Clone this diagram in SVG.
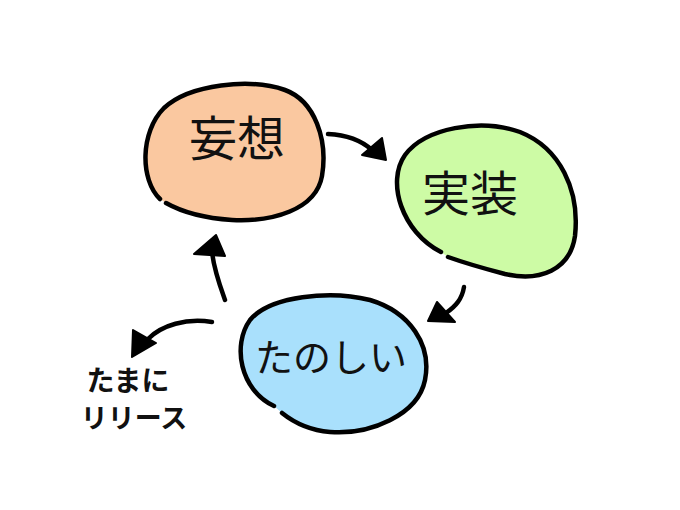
<svg xmlns="http://www.w3.org/2000/svg" width="680" height="510" viewBox="0 0 680 510">
<style>
.blob{stroke:#000;stroke-width:4.5;stroke-linecap:round;stroke-linejoin:round}
.ln{fill:none;stroke:#000;stroke-width:4.5;stroke-linecap:round}
.hd{fill:#000;stroke:#000;stroke-width:2;stroke-linejoin:round}
.t{font-family:"Noto Sans CJK JP","Noto Sans",sans-serif;fill:#111;text-anchor:middle}
.b{font-weight:bold}
</style>
<rect width="680" height="510" fill="#fff"/>
<g id="mousou">
<path class="blob" fill="#FAC8A0" d="M 160,199 C 140,180 140,132 164,108 C 190,84 250,78 285,90 C 315,101 328,140 322,176 C 316,210 272,222 232,220 C 202,218 182,212 166,203"/>
<text class="t" x="237" y="156" font-size="48">妄想</text>
</g>
<g id="jissou">
<path class="blob" fill="#CDFBA5" d="M 441,252 C 402,232 386,182 405,155 C 425,128 480,118 520,132 C 560,148 580,190 575,236 C 570,270 540,282 505,274 C 482,268 462,262 448,257"/>
<text class="t" x="470" y="211" font-size="48">実装</text>
</g>
<g id="tanoshii">
<path class="blob" fill="#A9E0FC" d="M 274,406 C 240,390 232,345 250,320 C 270,296 330,290 370,300 C 410,312 432,345 425,380 C 418,415 370,435 330,432 C 306,430 292,421 282,413"/>
<text class="t" x="331" y="371" font-size="38">たのしい</text>
</g>
<g id="release">
<text class="t b" x="128" y="391" font-size="28">たまに</text>
<text class="t b" x="134" y="428" font-size="27">リリース</text>
</g>
<g id="connectors">
<path class="ln" d="M 328,134 C 348,135 362,141 372,150"/>
<polygon class="hd" points="362,155 382,138 386,160"/>
<path class="ln" d="M 464,287 C 462,299 456,306 446,313"/>
<polygon class="hd" points="437,302 455,322 428,321"/>
<path class="ln" d="M 225,300 C 220,286 214,270 212,252"/>
<polygon class="hd" points="194,254 216,235 225,256"/>
<path class="ln" d="M 212,322 C 186,318 162,325 148,339"/>
<polygon class="hd" points="133,330 156,343 132,357"/>
</g>
</svg>
